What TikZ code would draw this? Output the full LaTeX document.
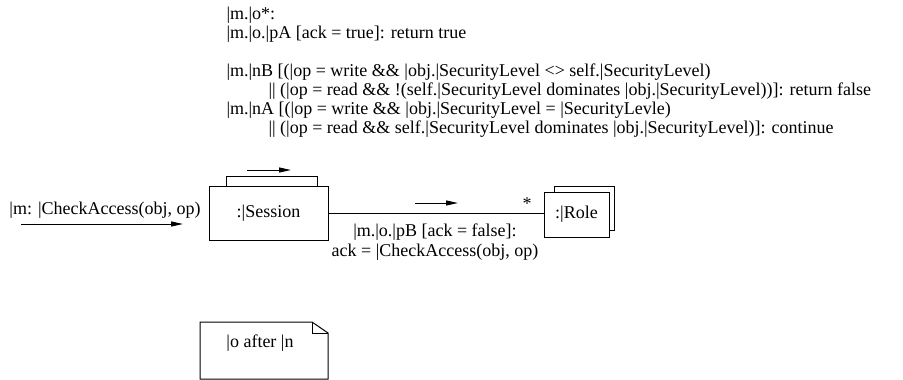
\documentclass[tikz,border=0pt]{standalone}
\usepackage{fontspec}
\setmainfont{Liberation Serif}
\usetikzlibrary{arrows.meta}
\begin{document}
\begin{tikzpicture}[x=1pt,y=-1pt,line width=1pt,
  txt/.style={font=\fontsize{18}{19.5}\selectfont,inner sep=0pt},
  objbox/.style={draw,fill=white,inner sep=0pt,font=\fontsize{18}{19.5}\selectfont},
  msg/.style={-{Triangle[length=12pt,width=5pt]}}]
\useasboundingbox (0,0) rectangle (903,380);
% top constraint text
\node[txt,anchor=west] (t1) at (226,15) {|m.|o*:};
\node[txt,anchor=west] (t2) at (226,34) {|m.|o.|pA [ack = true]: return true};
\node[txt,anchor=west] (t3) at (226,72) {|m.|nB [(|op = write \&\& |obj.|SecurityLevel <> self.|SecurityLevel)};
\node[txt,anchor=west] (t4) at (268,91) {|| (|op = read \&\& !(self.|SecurityLevel dominates |obj.|SecurityLevel))]: return false};
\node[txt,anchor=west] (t5) at (226,110) {|m.|nA [(|op = write \&\& |obj.|SecurityLevel = |SecurityLevle)};
\node[txt,anchor=west] (t6) at (268,129) {|| (|op = read \&\& self.|SecurityLevel dominates |obj.|SecurityLevel)]: continue};
% incoming message
\node[txt] (inlbl) at (105,210) {|m: |CheckAccess(obj, op)};
\coordinate (inA) at (21,224);
\coordinate (inB) at (183,224);
\draw[msg] (inA) -- (inB);
% Session (multi-object)
\draw (226,186) -- (226,176) -- (317,176) -- (317,186);
\coordinate (sA) at (247,170);
\coordinate (sB) at (291,170);
\draw[msg] (sA) -- (sB);
\node[objbox,minimum width=119pt,minimum height=54pt] (session) at (268.5,213) {:|Session};
% Role (multi-object)
\draw (554,192) -- (554,186) -- (614,186) -- (614,230) -- (609,230);
\node[objbox,minimum width=65pt,minimum height=45pt] (role) at (576.5,214.5) {:|Role};
% link
\coordinate (roleIn) at (544,213);
\draw (session.east) -- (roleIn);
\coordinate (lA) at (415,203);
\coordinate (lB) at (458,203);
\draw[msg] (lA) -- (lB);
\node[txt] (mult) at (527,204) {*};
\node[txt,align=center] (lnk) at (435,242) {|m.|o.|pB [ack = false]:\\ack = |CheckAccess(obj, op)};
% note
\draw (200,322) -- (312,322) -- (328,333) -- (328,379) -- (200,379) -- cycle;
\draw (312,322) -- (312,333) -- (328,333);
\node[txt] (note) at (260,343) {|o after |n};
\end{tikzpicture}
\end{document}
